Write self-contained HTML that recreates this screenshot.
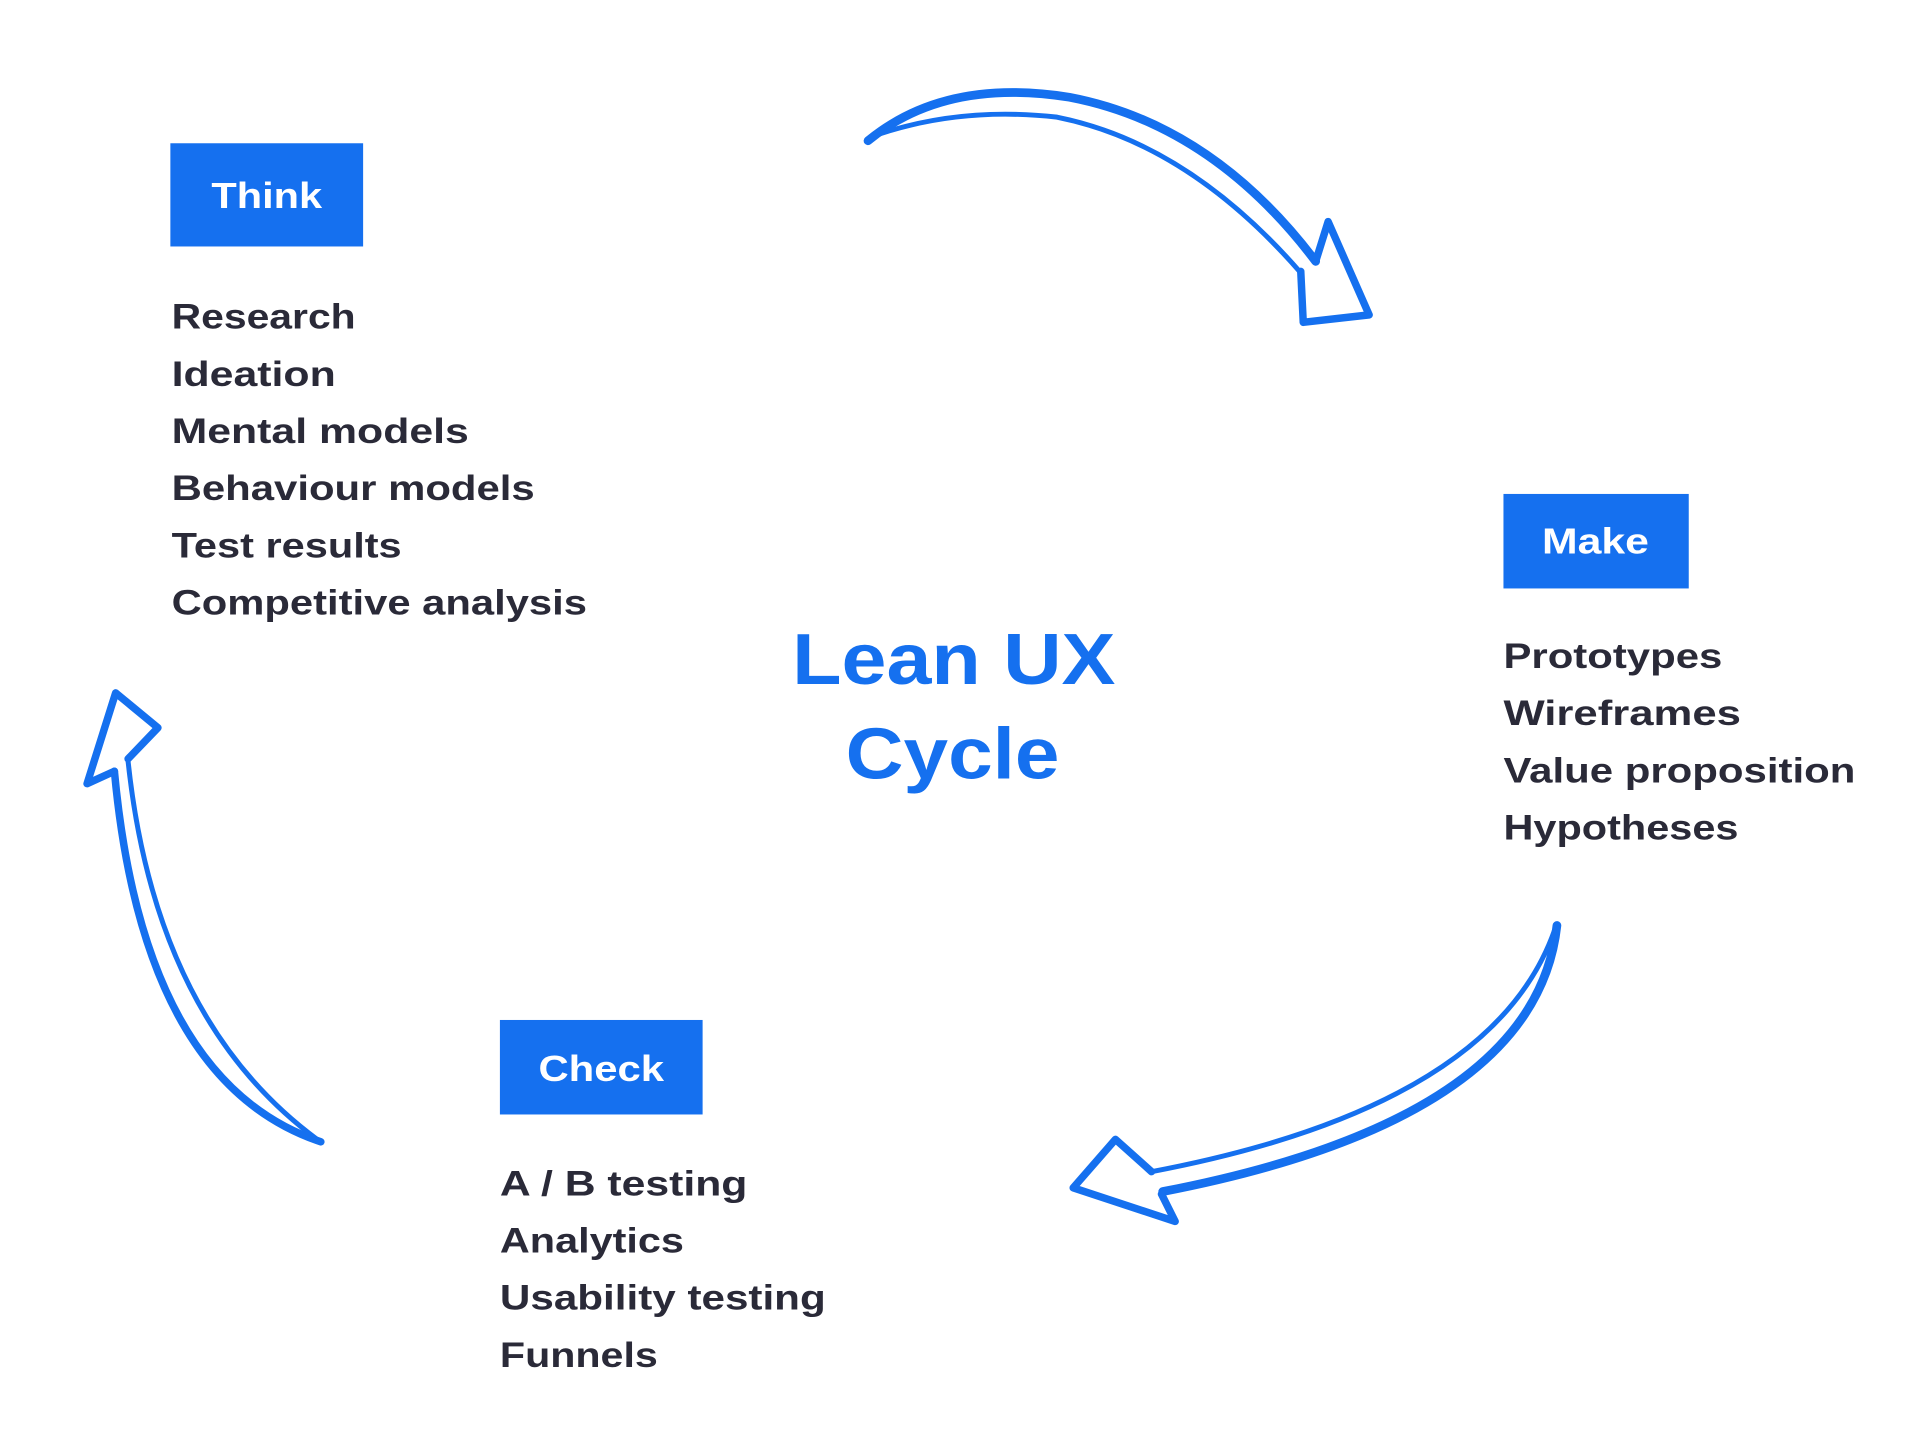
<!DOCTYPE html>
<html><head><meta charset="utf-8"><style>
html,body{margin:0;padding:0;background:#fff;}
svg{display:block;}
text{font-family:"Liberation Sans",sans-serif;font-weight:bold;}
.l{font-size:28px;fill:#2a2a38;}
.b{font-size:29px;fill:#fff;}
</style></head><body>
<svg width="1930" height="1448" viewBox="0 0 1552 1164" xmlns="http://www.w3.org/2000/svg">
<rect width="1552" height="1164" fill="#fff"/>
<g fill="none" stroke="#1570EF" stroke-linecap="round" stroke-linejoin="round">
  <path d="M698,113 Q760,62 860,78 Q975,100 1058,210" stroke-width="7"/>
  <path d="M700,110 Q770,85 850,94 Q955,115 1045,218" stroke-width="4"/>
  <path d="M1058,210 L1068,178 L1101,253 L1048,259 L1046,218" stroke-width="6"/>
  <path d="M1252,744 Q1235,900 935,958" stroke-width="7"/>
  <path d="M1250,748 Q1200,890 926,942" stroke-width="4"/>
  <path d="M926,942 L897,916 L863,955 L945,982 L934,960" stroke-width="6"/>
  <path d="M258,918 Q115,870 92,620" stroke-width="6"/>
  <path d="M255,916 Q125,820 103,612" stroke-width="4"/>
  <path d="M92,620 L70,630 L93,557 L127,585 L103,610" stroke-width="6"/>
</g>
<rect x="137" y="115" width="155" height="83" fill="#1570EF"/>
<text class="b" x="170" y="167" textLength="89" lengthAdjust="spacingAndGlyphs">Think</text>
<rect x="1209" y="397" width="149" height="76" fill="#1570EF"/>
<text class="b" x="1240" y="445" textLength="86" lengthAdjust="spacingAndGlyphs">Make</text>
<rect x="402" y="820" width="163" height="76" fill="#1570EF"/>
<text class="b" x="433" y="869" textLength="101" lengthAdjust="spacingAndGlyphs">Check</text>

<g lengthAdjust="spacingAndGlyphs">
<text class="l" x="138" y="264" textLength="148" lengthAdjust="spacingAndGlyphs">Research</text>
<text class="l" x="138" y="310" textLength="132" lengthAdjust="spacingAndGlyphs">Ideation</text>
<text class="l" x="138" y="356" textLength="239" lengthAdjust="spacingAndGlyphs">Mental models</text>
<text class="l" x="138" y="402" textLength="292" lengthAdjust="spacingAndGlyphs">Behaviour models</text>
<text class="l" x="138" y="448" textLength="185" lengthAdjust="spacingAndGlyphs">Test results</text>
<text class="l" x="138" y="494" textLength="334" lengthAdjust="spacingAndGlyphs">Competitive analysis</text>

<text class="l" x="1209" y="537" textLength="176" lengthAdjust="spacingAndGlyphs">Prototypes</text>
<text class="l" x="1209" y="583" textLength="191" lengthAdjust="spacingAndGlyphs">Wireframes</text>
<text class="l" x="1209" y="629" textLength="283" lengthAdjust="spacingAndGlyphs">Value proposition</text>
<text class="l" x="1209" y="675" textLength="189" lengthAdjust="spacingAndGlyphs">Hypotheses</text>

<text class="l" x="402" y="961" textLength="199" lengthAdjust="spacingAndGlyphs">A / B testing</text>
<text class="l" x="402" y="1007" textLength="148" lengthAdjust="spacingAndGlyphs">Analytics</text>
<text class="l" x="402" y="1053" textLength="262" lengthAdjust="spacingAndGlyphs">Usability testing</text>
<text class="l" x="402" y="1099" textLength="127" lengthAdjust="spacingAndGlyphs">Funnels</text>
</g>

<text x="637" y="550" textLength="260" lengthAdjust="spacingAndGlyphs" style="font-size:58px;fill:#1570EF">Lean UX</text>
<text x="680" y="626" textLength="172" lengthAdjust="spacingAndGlyphs" style="font-size:58px;fill:#1570EF">Cycle</text>
</svg>
</body></html>
